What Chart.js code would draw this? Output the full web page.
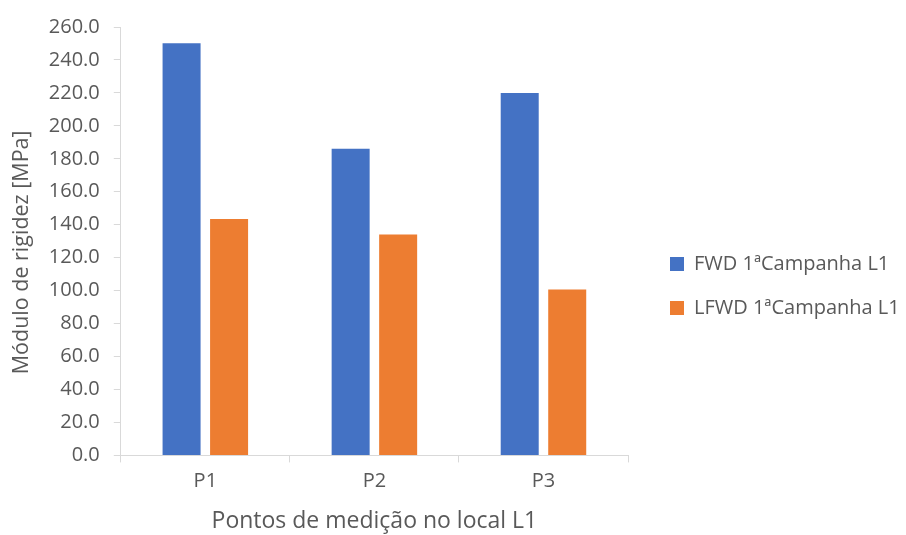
<!DOCTYPE html>
<html>
<head>
<meta charset="utf-8">
<script src="https://cdn.jsdelivr.net/npm/chart.js@4"></script>
<style>
  html, body { margin: 0; padding: 0; background: #fff; }
  #wrap { width: 906px; height: 535px; }
</style>
</head>
<body>
<div id="wrap"><canvas id="grafico" width="906" height="535"></canvas></div>
<script>
const pontos = ['P1', 'P2', 'P3']
const fwd = [250.2, 186.1, 220.0]
const lfwd = [143.5, 134.1, 100.7]
const yTicks = [0, 20, 40, 60, 80, 100, 120, 140, 160, 180, 200, 220, 240, 260]

const fonte = '"Open Sans", "Noto Sans", sans-serif'
const cinza = '#595959'
const linha = '#d9d9d9'

// legenda com largura fixa e deslocada como no Excel
const larguraLegenda = 278
const desloc = { x: 18, y: 5 }
const legendaFixa = {
  id: 'legendaFixa',
  beforeLayout(chart) {
    const lg = chart.legend
    if (lg && !lg._fitOrig) {
      lg._fitOrig = lg.fit
      lg.fit = function () {
        this._fitOrig()
        this.width = larguraLegenda
      }
    }
  },
  afterLayout(chart) {
    const lg = chart.legend
    lg.left += desloc.x
    lg.right += desloc.x
    lg.top += desloc.y
    lg.bottom += desloc.y
  }
}

const ctx = document.getElementById('grafico').getContext('2d')
const data = {
  labels: pontos,
  datasets: [
    {
      label: 'FWD 1ªCampanha L1',
      data: fwd,
      backgroundColor: '#4472C4',
      categoryPercentage: 0.562,
      barPercentage: 0.8
    },
    {
      label: 'LFWD 1ªCampanha L1',
      data: lfwd,
      backgroundColor: '#ED7D31',
      categoryPercentage: 0.562,
      barPercentage: 0.8
    }
  ]
}
const config = {
  type: 'bar',
  data: data,
  plugins: [legendaFixa],
  options: {
    responsive: false,
    animation: false,
    layout: { padding: { top: 27, right: 0, bottom: 0, left: 9 } },
    plugins: {
      legend: {
        position: 'right',
        labels: {
          font: { family: fonte, size: 20 },
          color: cinza,
          boxWidth: 14,
          boxHeight: 14,
          padding: 24
        }
      },
      tooltip: { enabled: false }
    },
    scales: {
      x: {
        grid: {
          display: true,
          offset: true,
          drawOnChartArea: false,
          drawTicks: true,
          tickLength: 7,
          color: linha
        },
        border: { display: true, color: linha },
        ticks: { font: { family: fonte, size: 20 }, color: cinza, padding: 7 },
        title: {
          display: true,
          text: 'Pontos de medição no local L1',
          font: { family: fonte, size: 23 },
          color: cinza,
          padding: { top: 7, bottom: 0 }
        }
      },
      y: {
        min: yTicks[0],
        max: yTicks[yTicks.length - 1],
        afterBuildTicks: (axis) => { axis.ticks = yTicks.map(v => ({ value: v })) },
        grid: {
          display: true,
          drawOnChartArea: false,
          drawTicks: true,
          tickLength: 7,
          color: linha
        },
        border: { display: true, color: linha },
        ticks: {
          font: { family: fonte, size: 20 },
          color: cinza,
          padding: 14,
          callback: (v) => Number(v).toFixed(1)
        },
        title: {
          display: true,
          text: 'Módulo de rigidez [MPa]    ',
          font: { family: fonte, size: 21.5 },
          color: cinza,
          padding: { top: 0, bottom: 0 }
        }
      }
    }
  }
}
const chart = new Chart(ctx, config)
</script>
</body>
</html>
